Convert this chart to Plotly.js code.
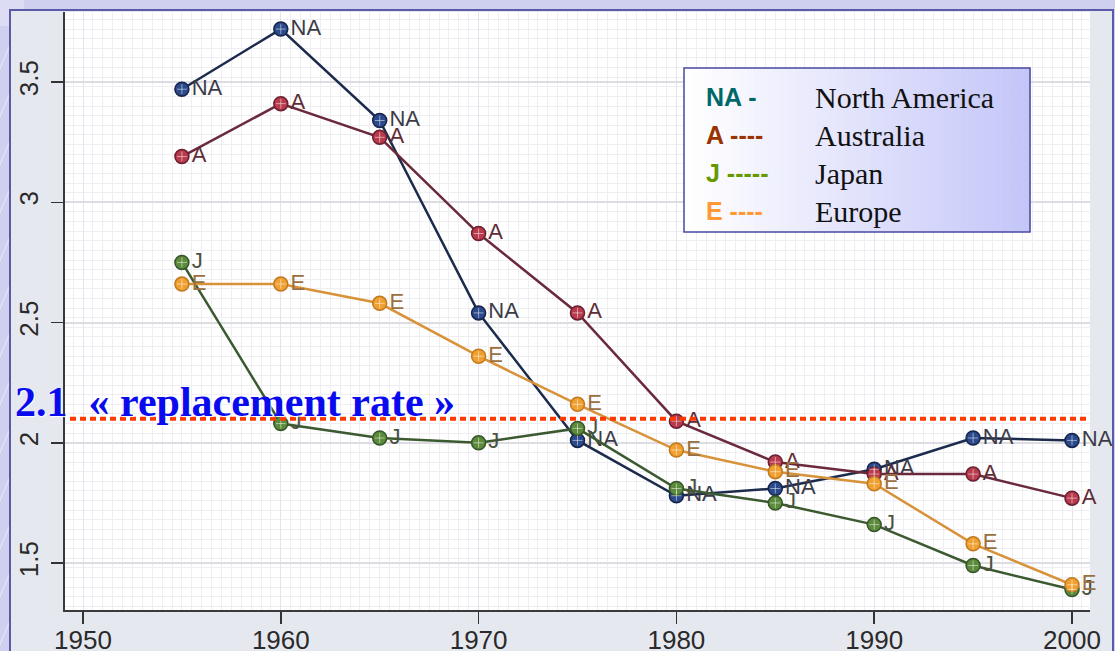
<!DOCTYPE html>
<html>
<head>
<meta charset="utf-8">
<script src="https://cdn.plot.ly/plotly-3.0.1.min.js"></script>
<style>
html,body{margin:0;padding:0;background:#cfd0f0;overflow:hidden;}
#chart{width:1115px;height:651px;}
</style>
</head>
<body>
<div id="chart"></div>
<script>
// ---- data ----
const years = [1955, 1960, 1965, 1970, 1975, 1980, 1985, 1990, 1995, 2000];
const northAmerica = [3.47, 3.72, 3.34, 2.54, 2.01, 1.78, 1.81, 1.89, 2.02, 2.01];
const australia    = [3.19, 3.41, 3.27, 2.87, 2.54, 2.09, 1.92, 1.87, 1.87, 1.77];
const japan        = [2.75, 2.08, 2.02, 2.00, 2.06, 1.81, 1.75, 1.66, 1.49, 1.39];
const europe       = [2.66, 2.66, 2.58, 2.36, 2.16, 1.97, 1.88, 1.83, 1.58, 1.41];
const seriesCodes  = ['NA', 'A', 'J', 'E'];
const legendKeys   = ['NA -', 'A ----', 'J -----', 'E ----'];
const legendNames  = ['North America', 'Australia', 'Japan', 'Europe'];
const replacementRate = 2.1;
const replacementLabel = '2.1\u00a0\u00a0\u00ab replacement rate \u00bb';
const xTickVals = [1950, 1960, 1970, 1980, 1990, 2000];
const yTickVals = [1.5, 2, 2.5, 3, 3.5];
const yTickText = ['1.5', '2', '2.5', '3', '3.5'];

// ---- styling ----
const seriesValues = [northAmerica, australia, japan, europe];
const lineColors   = ['#1c2a4c', '#6a2a3c', '#3c5a30', '#d8923a'];
const markerFill   = ['#2b4a8c', '#b83a4c', '#5a8a3a', '#f0a030'];
const markerEdge   = ['#17244a', '#6a2030', '#36562a', '#c07a20'];
const labelColors  = ['#3c3c48', '#5e2c36', '#4a5240', '#9a7040'];
const keyColors    = ['#006868', '#993300', '#669900', '#ff9933'];

const W = 1115, H = 651;
const L = 65, R = 25, T = 12, B = 41;
const pw = W - L - R, ph = H - T - B;
const px = v => (v - L) / pw;
const py = v => (H - B - v) / ph;

const traces = [];
seriesValues.forEach((vals, i) => {
  traces.push({
    x: years, y: vals, type: 'scatter', mode: 'lines+markers+text',
    text: years.map(() => seriesCodes[i]),
    textposition: 'middle right',
    textfont: {family: 'Liberation Sans, Arial, sans-serif', size: 22, color: labelColors[i]},
    line: {color: lineColors[i], width: 2.5},
    marker: {size: 14, color: markerFill[i], line: {color: markerEdge[i], width: 1.5}},
    hoverinfo: 'x+y', showlegend: false, cliponaxis: false
  });
});
seriesValues.forEach((vals, i) => {
  traces.push({
    x: years, y: vals, type: 'scatter', mode: 'markers',
    marker: {size: 7, symbol: 'cross-thin', line: {color: 'rgba(255,255,255,0.5)', width: 1}},
    hoverinfo: 'skip', showlegend: false, cliponaxis: false
  });
});

const shapes = [];
// background diagonal streaks on left edge
for (let k = 0; k < 14; k++) {
  const y0 = 40 + k * 48;
  shapes.push({type: 'line', xref: 'paper', yref: 'paper', layer: 'below',
    x0: px(-5), y0: py(y0 + 40), x1: px(12), y1: py(y0),
    line: {color: 'rgba(255,255,255,0.55)', width: 1}});
}
// light block top-left
shapes.push({type: 'rect', xref: 'paper', yref: 'paper', layer: 'below',
  x0: px(0), x1: px(24), y0: py(26), y1: py(0), fillcolor: '#dcdcf4', line: {width: 0}});
// gray panel
shapes.push({type: 'rect', xref: 'paper', yref: 'paper', layer: 'below',
  x0: px(10), x1: px(1113), y0: py(H + 20), y1: py(10),
  fillcolor: '#e6e8ef', line: {color: '#5a5aa8', width: 2}});
// white plotting region
shapes.push({type: 'rect', xref: 'paper', yref: 'paper', layer: 'below',
  x0: 0, x1: 1, y0: 0, y1: 1, fillcolor: '#ffffff', line: {width: 0}});
// replacement-rate dotted line
shapes.push({type: 'line', xref: 'paper', yref: 'y', layer: 'above',
  x0: px(70), x1: px(1088), y0: replacementRate, y1: replacementRate,
  line: {color: '#ff3a00', width: 4, dash: '6px,4px'}});
// legend box gradient
const lx0 = 684, lx1 = 1030, ly0 = 68, ly1 = 232;
const nStripes = 50;
for (let s = 0; s < nStripes; s++) {
  const t = s / (nStripes - 1);
  const r = Math.round(255 - t * (255 - 196));
  const g = Math.round(255 - t * (255 - 198));
  const b = Math.round(255 - t * (255 - 248));
  const xa = lx0 + (lx1 - lx0) * s / nStripes;
  const xb = lx0 + (lx1 - lx0) * (s + 1) / nStripes + 0.6;
  shapes.push({type: 'rect', xref: 'paper', yref: 'paper', layer: 'above',
    x0: px(xa), x1: px(xb), y0: py(ly1), y1: py(ly0),
    fillcolor: `rgb(${r},${g},${b})`, line: {width: 0}});
}
shapes.push({type: 'rect', xref: 'paper', yref: 'paper', layer: 'above',
  x0: px(lx0), x1: px(lx1), y0: py(ly1), y1: py(ly0),
  fillcolor: 'rgba(0,0,0,0)', line: {color: '#4848a0', width: 1.5}});

const annotations = [];
const rowY = [97, 135, 173, 211];
legendKeys.forEach((k, i) => {
  annotations.push({xref: 'paper', yref: 'paper', x: px(704), y: py(rowY[i]),
    xanchor: 'left', yanchor: 'middle', showarrow: false, text: k,
    font: {family: 'Liberation Sans, Arial, sans-serif', size: 25, color: keyColors[i], weight: 'bold'}});
  annotations.push({xref: 'paper', yref: 'paper', x: px(813), y: py(rowY[i]),
    xanchor: 'left', yanchor: 'middle', showarrow: false, text: legendNames[i],
    font: {family: 'Liberation Serif, Times New Roman, serif', size: 30, color: '#111111'}});
});
annotations.push({xref: 'paper', yref: 'paper', x: px(13), y: py(402),
  xanchor: 'left', yanchor: 'middle', showarrow: false, text: replacementLabel,
  font: {family: 'Liberation Serif, Times New Roman, serif', size: 42, color: '#0a0aee', weight: 'bold',
         shadow: '1px 1px 1px #ffffff'}});

const layout = {
  width: W, height: H,
  margin: {l: L, r: R, t: T, b: B, pad: 0},
  paper_bgcolor: '#cfd0f0',
  plot_bgcolor: 'rgba(0,0,0,0)',
  showlegend: false,
  xaxis: {
    range: [1949.09, 2000.91], tickvals: xTickVals, ticktext: xTickVals.map(String),
    ticks: 'outside', ticklen: 12, tickwidth: 1.5, tickcolor: '#333333',
    showline: true, linecolor: '#3a3a3a', linewidth: 2, mirror: false,
    showgrid: true, gridcolor: '#e4e4ea', gridwidth: 1, zeroline: false,
    minor: {dtick: 0.5, showgrid: true, gridcolor: '#eeeef3', gridwidth: 1},
    tickfont: {family: 'Liberation Sans, Arial, sans-serif', size: 26, color: '#2a2a2a'},
    ticklabelstandoff: -6
  },
  yaxis: {
    range: [1.305, 3.791], tickvals: yTickVals, ticktext: yTickText, tickangle: -90,
    ticks: 'outside', ticklen: 12, tickwidth: 1.5, tickcolor: '#333333',
    showline: true, linecolor: '#3a3a3a', linewidth: 2,
    showgrid: true, gridcolor: '#dcdce2', gridwidth: 2, zeroline: false,
    minor: {dtick: 0.04, showgrid: true, gridcolor: '#eeeef3', gridwidth: 1},
    tickfont: {family: 'Liberation Sans, Arial, sans-serif', size: 26, color: '#2a2a2a'},
    ticklabelstandoff: 3
  },
  shapes: shapes,
  annotations: annotations
};

Plotly.newPlot('chart', traces, layout, {displayModeBar: false, staticPlot: true});
</script>
</body>
</html>
